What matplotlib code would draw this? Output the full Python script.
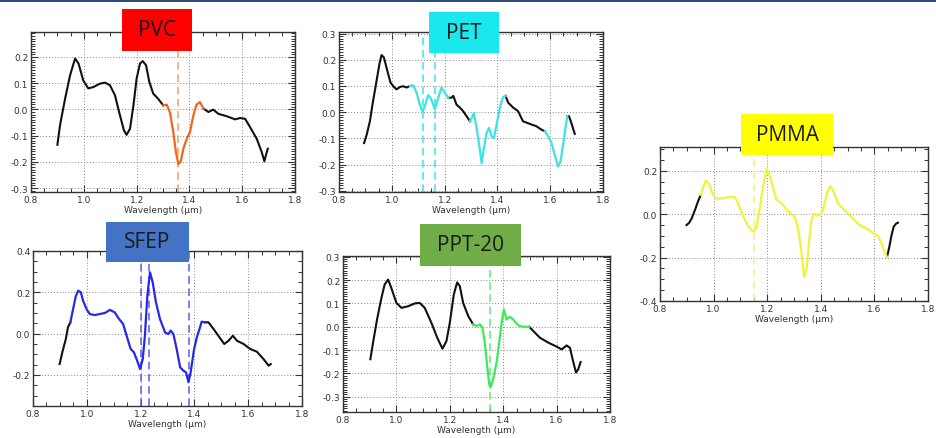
import numpy as np
import matplotlib
matplotlib.use("Agg")
import matplotlib.pyplot as plt
from matplotlib.patches import Rectangle
from matplotlib.ticker import MultipleLocator, FormatStrFormatter

plt.rcParams['font.family'] = ['DejaVu Sans']

# ---- data ----
pvc_wl = [0.900, 0.910, 0.929, 0.948, 0.967, 0.980, 0.998, 1.017, 1.036, 1.061, 1.080, 1.099,
          1.118, 1.137, 1.152, 1.162, 1.175, 1.188, 1.200, 1.213, 1.223, 1.236, 1.248, 1.263,
          1.282, 1.301, 1.314, 1.326, 1.339, 1.349, 1.358, 1.367, 1.377, 1.390, 1.402, 1.415,
          1.427, 1.440, 1.453, 1.472, 1.490, 1.510, 1.541, 1.573, 1.592, 1.611, 1.630, 1.655,
          1.674, 1.684, 1.693, 1.697]
pvc_val = [-0.135, -0.060, 0.040, 0.130, 0.194, 0.175, 0.110, 0.080, 0.085, 0.098, 0.102, 0.092,
           0.054, -0.023, -0.080, -0.097, -0.074, 0.015, 0.117, 0.175, 0.184, 0.168, 0.105, 0.060,
           0.040, 0.015, 0.018, -0.010, -0.087, -0.163, -0.208, -0.200, -0.150, -0.112, -0.087, -0.023,
           0.018, 0.028, 0.003, -0.010, -0.001, -0.017, -0.026, -0.038, -0.033, -0.036, -0.068, -0.112,
           -0.163, -0.198, -0.163, -0.150]
pvc_bands = [(1.301, 1.453)]
pvc_marks = [1.355]

pet_wl = [0.895, 0.905, 0.917, 0.927, 0.940, 0.953, 0.961, 0.970, 0.983, 0.995, 1.008, 1.018,
          1.031, 1.043, 1.056, 1.069, 1.081, 1.094, 1.106, 1.117, 1.125, 1.138, 1.147, 1.157,
          1.163, 1.172, 1.188, 1.201, 1.214, 1.226, 1.233, 1.245, 1.258, 1.270, 1.283, 1.296,
          1.302, 1.311, 1.321, 1.331, 1.340, 1.349, 1.359, 1.368, 1.378, 1.387, 1.397, 1.409,
          1.422, 1.431, 1.441, 1.460, 1.478, 1.497, 1.523, 1.548, 1.567, 1.580, 1.592, 1.605,
          1.617, 1.630, 1.639, 1.649, 1.658, 1.665, 1.671, 1.680, 1.693]
pet_val = [-0.118, -0.086, -0.035, 0.030, 0.106, 0.183, 0.218, 0.209, 0.158, 0.113, 0.096, 0.087,
           0.096, 0.099, 0.094, 0.100, 0.103, 0.074, 0.029, 0.001, 0.023, 0.065, 0.055, 0.029,
           0.010, 0.042, 0.094, 0.074, 0.055, 0.055, 0.062, 0.029, 0.017, 0.004, -0.015, -0.035,
           -0.024, -0.003, -0.060, -0.124, -0.195, -0.137, -0.079, -0.060, -0.092, -0.099, -0.047, 0.017,
           0.058, 0.062, 0.036, 0.017, 0.004, -0.035, -0.045, -0.054, -0.067, -0.073, -0.092, -0.118,
           -0.163, -0.208, -0.188, -0.124, -0.060, -0.015, -0.015, -0.041, -0.083]
pet_bands = [(1.069, 1.214), (1.296, 1.431), (1.580, 1.665)]
pet_marks = [1.12, 1.165]

pmma_wl = [0.899, 0.909, 0.918, 0.930, 0.943, 0.952, 0.961, 0.971, 0.984, 0.996, 1.011, 1.036,
           1.061, 1.080, 1.092, 1.111, 1.130, 1.147, 1.159, 1.173, 1.186, 1.198, 1.208, 1.222,
           1.235, 1.254, 1.272, 1.291, 1.303, 1.316, 1.328, 1.338, 1.347, 1.356, 1.365, 1.374,
           1.387, 1.403, 1.411, 1.424, 1.436, 1.449, 1.465, 1.489, 1.514, 1.545, 1.570, 1.595,
           1.614, 1.626, 1.639, 1.647, 1.655, 1.663, 1.672, 1.682, 1.688]
pmma_val = [-0.050, -0.039, -0.020, 0.018, 0.063, 0.089, 0.123, 0.156, 0.138, 0.093, 0.071, 0.074,
            0.081, 0.078, 0.048, -0.012, -0.057, -0.080, -0.065, 0.033, 0.138, 0.209, 0.183, 0.123,
            0.066, 0.051, 0.021, 0.000, -0.012, -0.072, -0.177, -0.290, -0.253, -0.132, -0.027, 0.003,
            -0.005, 0.003, 0.033, 0.101, 0.131, 0.101, 0.048, 0.018, -0.012, -0.050, -0.065, -0.087,
            -0.102, -0.132, -0.177, -0.197, -0.155, -0.102, -0.057, -0.042, -0.039]
pmma_bands = [(0.952, 1.647)]
pmma_marks = [1.15]

sfep_wl = [0.899, 0.909, 0.922, 0.930, 0.939, 0.949, 0.959, 0.968, 0.978, 0.986, 0.999, 1.011,
           1.030, 1.048, 1.067, 1.086, 1.104, 1.120, 1.135, 1.148, 1.163, 1.175, 1.185, 1.198,
           1.208, 1.216, 1.225, 1.235, 1.245, 1.257, 1.272, 1.291, 1.303, 1.312, 1.322, 1.334,
           1.347, 1.359, 1.369, 1.378, 1.386, 1.399, 1.409, 1.419, 1.427, 1.440, 1.452, 1.471,
           1.489, 1.511, 1.527, 1.543, 1.558, 1.583, 1.607, 1.632, 1.657, 1.676, 1.684]
sfep_val = [-0.147, -0.090, -0.026, 0.031, 0.055, 0.119, 0.181, 0.208, 0.200, 0.160, 0.119, 0.095,
            0.090, 0.095, 0.100, 0.115, 0.103, 0.071, 0.047, -0.010, -0.074, -0.090, -0.123, -0.171,
            -0.123, -0.010, 0.184, 0.297, 0.248, 0.152, 0.071, 0.006, -0.002, 0.015, -0.002, -0.074,
            -0.163, -0.179, -0.187, -0.235, -0.187, -0.074, -0.018, 0.023, 0.058, 0.055, 0.055, 0.023,
            -0.010, -0.050, -0.034, -0.010, -0.034, -0.050, -0.074, -0.087, -0.123, -0.155, -0.147]
sfep_bands = [(0.939, 1.440)]
sfep_marks = [1.20, 1.23, 1.38]

ppt_wl = [0.9025, 0.9125, 0.9275, 0.944, 0.956, 0.969, 0.981, 1.000, 1.019, 1.044, 1.069, 1.0875,
          1.106, 1.131, 1.153, 1.1725, 1.1875, 1.200, 1.215, 1.2275, 1.2375, 1.250, 1.269, 1.2875,
          1.300, 1.3125, 1.3225, 1.331, 1.340, 1.3475, 1.3525, 1.3625, 1.375, 1.385, 1.394, 1.4025,
          1.4125, 1.425, 1.4375, 1.456, 1.475, 1.4975, 1.5125, 1.5375, 1.569, 1.600, 1.619, 1.6375,
          1.650, 1.660, 1.6725, 1.681, 1.690]
ppt_val = [-0.139, -0.068, 0.031, 0.124, 0.181, 0.202, 0.166, 0.102, 0.081, 0.088, 0.100, 0.102,
           0.081, 0.017, -0.047, -0.094, -0.061, 0.017, 0.138, 0.190, 0.174, 0.102, 0.046, 0.010,
           0.003, 0.010, -0.004, -0.068, -0.168, -0.246, -0.260, -0.225, -0.154, -0.068, 0.017, 0.074,
           0.031, 0.043, 0.031, 0.006, 0.000, 0.000, -0.018, -0.047, -0.068, -0.085, -0.097, -0.080,
           -0.090, -0.139, -0.196, -0.182, -0.151]
ppt_bands = [(1.2875, 1.4975)]
ppt_marks = [1.35]

# ---- layout (pixel boxes from the reference) ----
W, H = 936, 439
panels = [
    # name, wl, val, bands, marks, colour, dash colour, box colour, axes px (l, r, t, b), label px (l, r, t, b), ylim, ystep, yminor
    ("PVC", pvc_wl, pvc_val, pvc_bands, pvc_marks, "#F2651F", "#F4A06A", "#FF0000",
     (31, 295, 33, 193), (122, 192, 10, 52), (-0.315, 0.295), 0.1, 0.01),
    ("PET", pet_wl, pet_val, pet_bands, pet_marks, "#3FE3E3", "#3FE3E3", "#19E9EE",
     (339, 603, 33, 193), (429, 499, 13, 54), (-0.305, 0.306), 0.1, 0.01),
    ("PMMA", pmma_wl, pmma_val, pmma_bands, pmma_marks, "#F2F23A", "#F2F27A", "#FFFF00",
     (660, 928, 148, 302), (741, 833, 115, 156), (-0.40, 0.31), 0.2, 0.05),
    ("SFEP", sfep_wl, sfep_val, sfep_bands, sfep_marks, "#2828E6", "#5C5CE8", "#4472C4",
     (33, 302, 252, 407), (106, 189, 223, 263), (-0.35, 0.40), 0.2, 0.05),
    ("PPT-20", ppt_wl, ppt_val, ppt_bands, ppt_marks, "#3CEB5A", "#5FEA7A", "#70AD47",
     (343, 610, 257, 413), (420, 521, 225, 267), (-0.365, 0.303), 0.1, 0.01),
]

fig = plt.figure(figsize=(W / 100, H / 100), dpi=100)
fig.patch.set_facecolor("white")

# thin dark band on top
fig.add_artist(Rectangle((0, 1 - 3 / H), 1, 3 / H, transform=fig.transFigure,
                         facecolor="#2E4A7D", edgecolor="none"))

for (name, wl, val, bands, marks, col, dcol, bcol, box, lab, ylim, ystep, yminor) in panels:
    l, r, t, b = box
    ax = fig.add_axes([l / W, (H - b) / H, (r - l) / W, (b - t) / H])
    wl = np.array(wl)
    val = np.array(val)

    # black outside the highlighted bands, colour inside
    black = val.copy()
    for lo, hi in bands:
        inside = (wl > lo + 1e-9) & (wl < hi - 1e-9)
        black[inside] = np.nan
    ax.plot(wl, black, color="#111111", lw=1.5, zorder=3)
    for lo, hi in bands:
        m = (wl >= lo - 1e-9) & (wl <= hi + 1e-9)
        ax.plot(wl[m], val[m], color=col, lw=1.6, zorder=4)
    for xm in marks:
        ax.axvline(xm, color=dcol, lw=1.1, ls=(0, (5, 3)), zorder=2)

    ax.set_xlim(0.8, 1.8)
    ax.set_ylim(*ylim)
    ax.xaxis.set_major_locator(MultipleLocator(0.2))
    ax.xaxis.set_minor_locator(MultipleLocator(0.05))
    ax.yaxis.set_major_locator(MultipleLocator(ystep))
    ax.yaxis.set_minor_locator(MultipleLocator(yminor))
    ax.xaxis.set_major_formatter(FormatStrFormatter("%.1f"))
    ax.yaxis.set_major_formatter(FormatStrFormatter("%.1f"))
    ax.tick_params(which="both", direction="in", top=True, right=True,
                   labelsize=6.5, labelcolor="#333333", color="#333333", pad=2)
    ax.tick_params(which="major", length=5, width=0.8)
    ax.tick_params(which="minor", length=3, width=0.7)
    ax.grid(True, which="major", ls=(0, (1, 2)), color="#888888", lw=0.7)
    for s in ax.spines.values():
        s.set_color("#333333")
        s.set_linewidth(1.0)
    ax.set_xlabel("Wavelength (µm)", fontsize=6.5, color="#333333", labelpad=1)

    ll, lr, lt, lb = lab
    fig.add_artist(Rectangle((ll / W, (H - lb) / H), (lr - ll) / W, (lb - lt) / H,
                             transform=fig.transFigure, facecolor=bcol, edgecolor="none", zorder=10))
    fig.text((ll + lr) / 2 / W, (H - (lt + lb) / 2) / H, name, ha="center", va="center",
             fontsize=15, color="#1a1a1a", family="Open Sans", zorder=11)

fig.savefig("out.png", dpi=100)
